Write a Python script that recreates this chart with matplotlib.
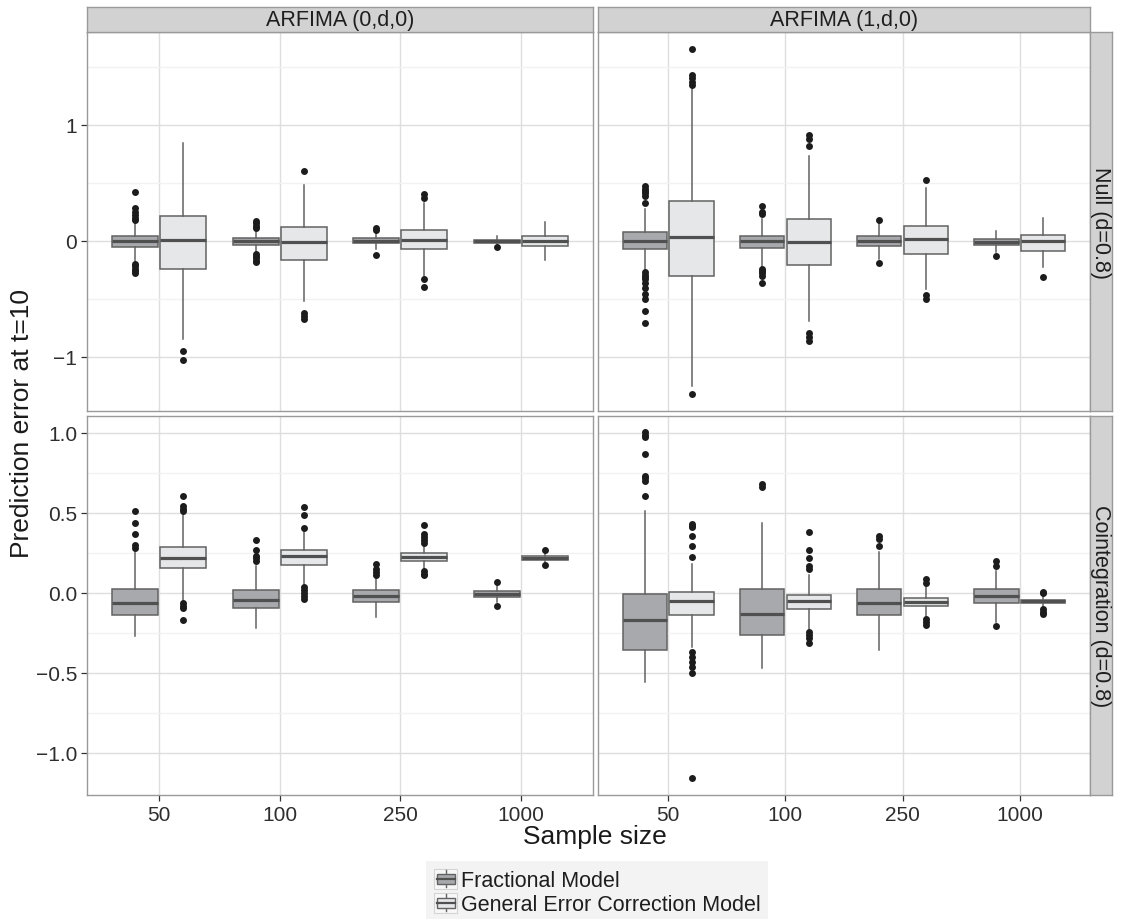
import matplotlib
matplotlib.use("Agg")
import matplotlib.pyplot as plt
from matplotlib.legend_handler import HandlerBase
from matplotlib.lines import Line2D
from matplotlib.patches import Patch, Rectangle
from matplotlib.ticker import FixedLocator

plt.rcParams['font.family'] = ['Liberation Sans', 'DejaVu Sans']

sizes = ["50", "100", "250", "1000"]
models = ["ARFIMA (0,d,0)", "ARFIMA (1,d,0)"]
scenarios = ["Null (d=0.8)", "Cointegration (d=0.8)"]
methods = ["Fractional Model", "General Error Correction Model"]

# box summaries per sample size: (low whisker, q1, median, q3, high whisker)
null_arfima0_frac = [(-0.17, -0.05, 0.0, 0.046, 0.16), (-0.10, -0.032, 0.0, 0.023, 0.09),
                     (-0.07, -0.02, 0.0, 0.023, 0.07), (-0.03, -0.017, 0.0, 0.011, 0.04)]
null_arfima0_frac_out = [[0.42, 0.28, 0.25, 0.22, 0.20, 0.18, -0.20, -0.22, -0.24, -0.26, -0.28],
                         [0.17, 0.15, 0.13, 0.11, -0.11, -0.13, -0.15, -0.17, -0.18],
                         [0.11, 0.09, -0.12], [-0.055]]
null_arfima0_gecm = [(-0.845, -0.241, 0.011, 0.216, 0.845), (-0.52, -0.164, -0.011, 0.123, 0.48),
                     (-0.30, -0.069, 0.011, 0.095, 0.33), (-0.164, -0.046, 0.0, 0.04, 0.166)]
null_arfima0_gecm_out = [[-0.95, -1.03], [0.60, -0.62, -0.65, -0.67],
                         [0.40, 0.37, -0.33, -0.40], []]

null_arfima1_frac = [(-0.24, -0.069, 0.003, 0.075, 0.276), (-0.227, -0.063, 0.0, 0.046, 0.19),
                     (-0.155, -0.046, 0.003, 0.04, 0.15), (-0.10, -0.032, -0.006, 0.017, 0.083)]
null_arfima1_frac_out = [[0.47, 0.45, 0.43, 0.41, 0.39, 0.33, -0.27, -0.29, -0.31, -0.33,
                          -0.36, -0.41, -0.46, -0.50, -0.60, -0.71],
                         [0.30, 0.25, 0.23, -0.24, -0.26, -0.28, -0.30, -0.36],
                         [0.18, -0.19], [-0.126]]
null_arfima1_gecm = [(-1.247, -0.305, 0.037, 0.347, 1.31), (-0.687, -0.204, -0.011, 0.19, 0.735),
                     (-0.414, -0.109, 0.017, 0.127, 0.454), (-0.227, -0.083, 0.0, 0.052, 0.198)]
null_arfima1_gecm_out = [[1.655, 1.43, 1.40, 1.37, 1.34, -1.32], [0.91, 0.88, 0.82, -0.79, -0.83, -0.86],
                         [0.525, -0.47, -0.50], [-0.31]]

coint_arfima0_frac = [(-0.267, -0.135, -0.0625, 0.027, 0.258), (-0.219, -0.096, -0.046, 0.021, 0.167),
                      (-0.152, -0.056, -0.021, 0.017, 0.094), (-0.058, -0.027, -0.006, 0.015, 0.046)]
coint_arfima0_frac_out = [[0.515, 0.435, 0.369, 0.30, 0.28], [0.33, 0.27, 0.233, 0.22, 0.20],
                          [0.179, 0.15, 0.13, 0.11], [0.071, -0.083]]
coint_arfima0_gecm = [(-0.054, 0.154, 0.219, 0.29, 0.49), (0.05, 0.177, 0.231, 0.269, 0.38),
                      (0.15, 0.202, 0.225, 0.248, 0.306), (0.19, 0.208, 0.221, 0.233, 0.25)]
coint_arfima0_gecm_out = [[0.604, 0.546, 0.525, 0.51, -0.063, -0.08, -0.095, -0.169],
                          [0.535, 0.49, 0.404, 0.04, 0.02, 0.0, -0.02, -0.04],
                          [0.427, 0.37, 0.35, 0.33, 0.31, 0.14, 0.12, 0.11], [0.267, 0.175]]

coint_arfima1_frac = [(-0.558, -0.356, -0.167, -0.004, 0.515), (-0.47, -0.26, -0.133, 0.025, 0.44),
                      (-0.354, -0.1375, -0.065, 0.025, 0.258), (-0.18, -0.0625, -0.017, 0.027, 0.14)]
coint_arfima1_frac_out = [[1.004, 0.99, 0.973, 0.869, 0.733, 0.72, 0.70, 0.604], [0.68, 0.66],
                          [0.354, 0.34, 0.296], [0.20, 0.17, -0.204]]
coint_arfima1_gecm = [(-0.34, -0.1375, -0.052, 0.004, 0.18), (-0.225, -0.102, -0.048, -0.0125, 0.1125),
                      (-0.152, -0.083, -0.054, -0.031, 0.05), (-0.09, -0.0625, -0.052, -0.042, -0.017)]
coint_arfima1_gecm_out = [[0.43, 0.42, 0.41, 0.354, 0.296, 0.223, -0.37, -0.40, -0.43, -0.46, -0.50, -1.158],
                          [0.379, 0.27, 0.22, 0.17, 0.15, -0.245, -0.265, -0.28, -0.3125],
                          [0.0875, 0.065, -0.1625, -0.18, -0.2], [0.008, 0.0, -0.10, -0.12, -0.13]]

FILLS = ['#a8a9ad', '#e6e7e9']
EDGE = '#626262'
MEDIAN = '#505050'

W, H = 1127, 920
fig = plt.figure(figsize=(W / 100, H / 100), dpi=100)


def px_axes(x0, y0, x1, y1):
    return fig.add_axes([x0 / W, 1 - y1 / H, (x1 - x0) / W, (y1 - y0) / H])


def summaries(rows, outliers):
    return [dict(whislo=r[0], q1=r[1], med=r[2], q3=r[3], whishi=r[4], fliers=o)
            for r, o in zip(rows, outliers)]


def draw_panel(ax, frac, frac_out, gecm, gecm_out):
    pos = list(range(1, len(sizes) + 1))
    for k, (rows, outs, shift) in enumerate([(frac, frac_out, -0.2), (gecm, gecm_out, 0.2)]):
        ax.bxp(summaries(rows, outs), positions=[p + shift for p in pos], widths=0.38,
               patch_artist=True, showcaps=False, manage_ticks=False,
               boxprops=dict(facecolor=FILLS[k], edgecolor=EDGE, linewidth=1.1),
               whiskerprops=dict(color=EDGE, linewidth=1.1),
               medianprops=dict(color=MEDIAN, linewidth=2.3),
               flierprops=dict(marker='o', markerfacecolor='#1c1c1c', markeredgecolor='none',
                               markersize=5.0))
    ax.set_xlim(0.4, 4.6)
    ax.set_xticks(pos)
    ax.set_axisbelow(True)
    ax.grid(which='major', color='#dedede', linewidth=1.0)
    ax.grid(which='minor', axis='y', color='#f2f2f2', linewidth=1.0)
    for s in ax.spines.values():
        s.set_color('#9a9a9a')
        s.set_linewidth(1.0)
    ax.tick_params(which='major', direction='out', length=4, width=0.9, color='#333333',
                   labelsize=15, labelcolor='#2e2e2e', pad=3)
    ax.tick_params(which='minor', length=0)


def strip(box, label, rotation=0):
    sax = px_axes(*box)
    sax.set_facecolor('#d2d2d2')
    sax.set_xticks([])
    sax.set_yticks([])
    for s in sax.spines.values():
        s.set_color('#9a9a9a')
        s.set_linewidth(1.0)
    sax.text(0.5, 0.5, label, transform=sax.transAxes, ha='center', va='center',
             rotation=rotation, fontsize=15.5, color='#1e1e1e')


panel_boxes = {(0, 0): (87, 33, 593, 412), (0, 1): (598, 33, 1090, 412),
               (1, 0): (87, 417, 593, 796), (1, 1): (598, 417, 1090, 796)}
panel_data = {(0, 0): (null_arfima0_frac, null_arfima0_frac_out, null_arfima0_gecm, null_arfima0_gecm_out),
              (0, 1): (null_arfima1_frac, null_arfima1_frac_out, null_arfima1_gecm, null_arfima1_gecm_out),
              (1, 0): (coint_arfima0_frac, coint_arfima0_frac_out, coint_arfima0_gecm, coint_arfima0_gecm_out),
              (1, 1): (coint_arfima1_frac, coint_arfima1_frac_out, coint_arfima1_gecm, coint_arfima1_gecm_out)}

for (r, c), box in panel_boxes.items():
    ax = px_axes(*box)
    draw_panel(ax, *panel_data[(r, c)])
    if r == 0:
        ax.set_ylim(-1.466, 1.80)
        ax.set_yticks([-1, 0, 1])
        ax.yaxis.set_minor_locator(FixedLocator([-1.5, -0.5, 0.5, 1.5]))
        ax.set_xticklabels([])
        ax.tick_params(axis='x', length=0)
    else:
        ax.set_ylim(-1.2625, 1.106)
        ax.set_yticks([-1.0, -0.5, 0.0, 0.5, 1.0])
        ax.set_yticklabels(['\u22121.0', '\u22120.5', '0.0', '0.5', '1.0'])
        ax.yaxis.set_minor_locator(FixedLocator([-0.75, -0.25, 0.25, 0.75]))
        ax.set_xticklabels(sizes)
    if c == 1:
        ax.set_yticklabels([])
        ax.tick_params(axis='y', length=0)

strip((87, 8, 593, 33), models[0])
strip((598, 8, 1090, 33), models[1])
strip((1090, 33, 1112, 412), scenarios[0], rotation=-90)
strip((1090, 417, 1112, 796), scenarios[1], rotation=-90)

fig.text(595 / W, 1 - 837 / H, 'Sample size', ha='center', va='center', fontsize=19, color='#1a1a1a')
fig.text(22 / W, 1 - 423 / H, 'Prediction error at t=10', ha='center', va='center',
         rotation=90, fontsize=19, color='#1a1a1a')


class BoxKey(HandlerBase):
    def create_artists(self, legend, orig_handle, xdescent, ydescent, width, height, fontsize, trans):
        x0, y0 = -xdescent, -ydescent
        cx = x0 + width / 2
        bg = Rectangle((x0, y0), width, height, facecolor='#f7f7f7', edgecolor='#d4d4d4',
                       linewidth=0.8, transform=trans)
        whisk = Line2D([cx, cx], [y0 + height * 0.08, y0 + height * 0.92], color=EDGE,
                       linewidth=1.0, transform=trans)
        body = Rectangle((x0 + width * 0.12, y0 + height * 0.25), width * 0.76, height * 0.5,
                         facecolor=orig_handle.get_facecolor(), edgecolor=EDGE, linewidth=1.0,
                         transform=trans)
        med = Line2D([x0 + width * 0.12, x0 + width * 0.88], [y0 + height / 2] * 2, color=MEDIAN,
                     linewidth=1.6, transform=trans)
        return [bg, whisk, body, med]


handles = [Patch(facecolor=FILLS[0]), Patch(facecolor=FILLS[1])]
leg = fig.legend(handles, methods, handler_map={Patch: BoxKey()}, loc='lower center',
                 bbox_to_anchor=(597 / W, -0.004), fontsize=15.5, frameon=True,
                 handlelength=1.1, handleheight=1.05, handletextpad=0.15, labelspacing=0.08,
                 borderpad=0.35, borderaxespad=0)
leg.get_frame().set_facecolor('#f0f0f2')
leg.get_frame().set_edgecolor('none')
leg.get_frame().set_boxstyle('square', pad=0)
for t in leg.get_texts():
    t.set_color('#1e1e1e')

fig.savefig('out.png', dpi=100)
